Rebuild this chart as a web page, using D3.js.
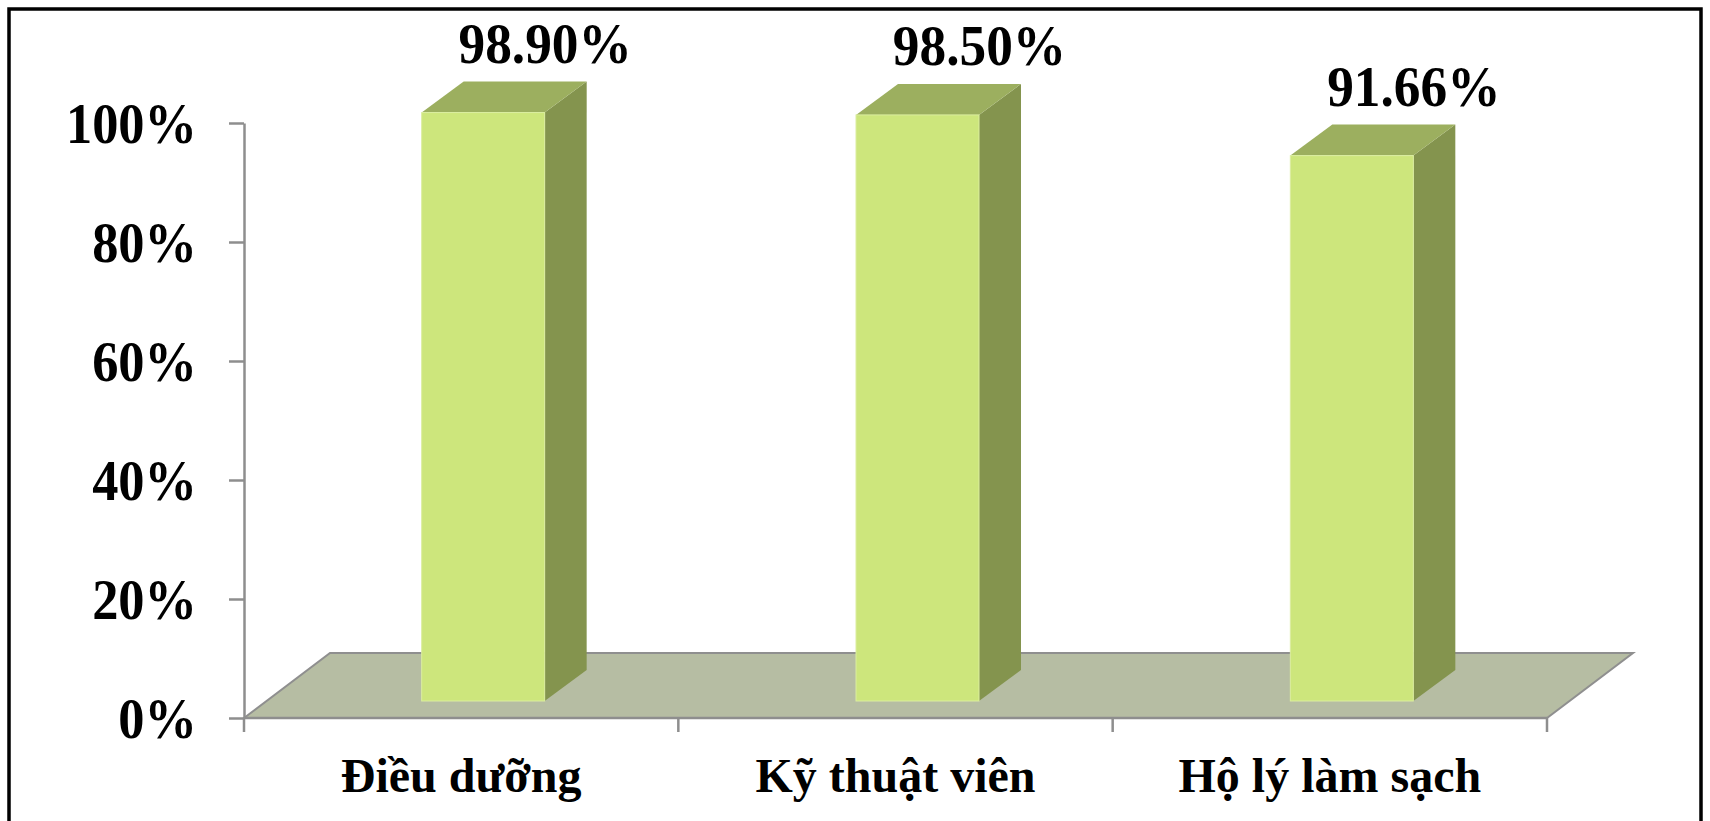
<!DOCTYPE html>
<html>
<head>
<meta charset="utf-8">
<script src="https://cdn.jsdelivr.net/npm/d3@7"></script>
<style>
  body { margin: 0; background: #fff; }
  text { font-family: "Liberation Serif", "Times New Roman", serif; font-weight: bold; fill: #000; }
</style>
</head>
<body>
<script>
// data
var categories = ["Điều dưỡng", "Kỹ thuật viên", "Hộ lý làm sạch"];
var values = [0.989, 0.985, 0.9166];
var valueLabels = ["98.90%", "98.50%", "91.66%"];
var yTicks = [0, 0.2, 0.4, 0.6, 0.8, 1];

var W = 1710, H = 821;
var svg = d3.select("body").append("svg")
  .attr("width", W)
  .attr("height", H);

// outer frame
svg.append("rect")
  .attr("x", 9).attr("y", 9)
  .attr("width", 1692).attr("height", 830)
  .attr("fill", "none")
  .attr("stroke", "#000")
  .attr("stroke-width", 3.5);

var x = d3.scaleBand().domain(categories).range([244, 1547]);
var y = d3.scaleLinear().domain([0, 1]).range([718, 123]);

// depth of the floor (3d offset)
var depth = { dx: 86, dy: -65 };
var sx = 0.92; // condensed look of the numbers

// floor
var y0 = y(0);
svg.append("polygon")
  .attr("points", [
    [244, y0], [1547, y0], [1547 + depth.dx, y0 + depth.dy], [244 + depth.dx, y0 + depth.dy]
  ].join(" "))
  .attr("fill", "#b6bda3")
  .attr("stroke", "#8f8f8f")
  .attr("stroke-width", 2);

// y axis
var yAxis = svg.append("g")
  .attr("transform", "translate(244,0)")
  .call(d3.axisLeft(y).tickValues(yTicks).tickSize(15).tickSizeOuter(0)
    .tickFormat(d3.format(".0%")));
yAxis.select(".domain").attr("stroke", "#8e8e8e").attr("stroke-width", 2.5);
yAxis.selectAll(".tick line").attr("stroke", "#8e8e8e").attr("stroke-width", 2.5);
yAxis.selectAll(".tick text")
  .attr("x", -47 / sx)
  .attr("dy", null)
  .attr("y", 19)
  .attr("transform", "scale(" + sx + ",1)")
  .style("font-family", "'Liberation Serif', serif")
  .style("font-weight", "bold")
  .style("font-size", "57px")
  .attr("fill", "#000");

// x axis: front edge + ticks at category boundaries
var bounds = categories.map(function (c) { return x(c); }).concat([x.range()[1]]);
svg.append("line")
  .attr("x1", 244).attr("x2", 1547)
  .attr("y1", y0).attr("y2", y0)
  .attr("stroke", "#8e8e8e").attr("stroke-width", 2.5);
svg.selectAll(".xtick").data(bounds).enter().append("line")
  .attr("class", "xtick")
  .attr("x1", function (d) { return d; }).attr("x2", function (d) { return d; })
  .attr("y1", y0).attr("y2", y0 + 14)
  .attr("stroke", "#8e8e8e").attr("stroke-width", 2.5);

// bars
var barW = 123, front = { dx: 22, dy: -17 }, bd = { dx: 42, dy: -31 };
var bars = svg.selectAll(".bar").data(values).enter().append("g").attr("class", "bar");

bars.each(function (v, i) {
  var g = d3.select(this);
  var cx = x(categories[i]) + x.bandwidth() / 2;
  var fl = cx + front.dx - barW / 2, fr = fl + barW;
  var yb = y0 + front.dy;
  var yt = yb - (y0 - y(v));
  g.append("polygon")
    .attr("points", [[fr, yt], [fr + bd.dx, yt + bd.dy], [fr + bd.dx, yb + bd.dy], [fr, yb]].join(" "))
    .attr("fill", "#84944e");
  g.append("polygon")
    .attr("points", [[fl, yt], [fl + bd.dx, yt + bd.dy], [fr + bd.dx, yt + bd.dy], [fr, yt]].join(" "))
    .attr("fill", "#9caf5f");
  g.append("rect")
    .attr("x", fl).attr("y", yt)
    .attr("width", barW).attr("height", yb - yt)
    .attr("fill", "#cde67c")
    .attr("stroke", "#dbeea0").attr("stroke-width", 1);
  g.append("text")
    .attr("transform", "translate(" + (cx + front.dx + 62) + "," + (yt + bd.dy - 19) + ") scale(" + sx + ",1)")
    .attr("text-anchor", "middle")
    .style("font-size", "58px")
    .text(valueLabels[i]);
});

// category labels
svg.selectAll(".cat").data(categories).enter().append("text")
  .attr("class", "cat")
  .attr("transform", function (d) {
    return "translate(" + (x(d) + x.bandwidth() / 2) + ",792)";
  })
  .attr("text-anchor", "middle")
  .style("font-size", "48px")
  .text(function (d) { return d; });
</script>
</body>
</html>
